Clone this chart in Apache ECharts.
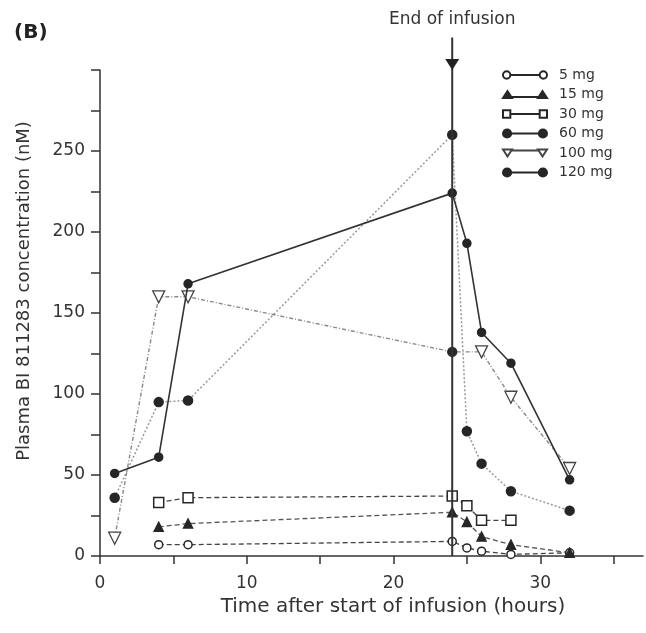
<!DOCTYPE html>
<html>
<head>
<meta charset="utf-8">
<script src="https://cdn.jsdelivr.net/npm/echarts@6/dist/echarts.min.js"></script>
<style>
html,body{margin:0;padding:0;background:#fff;}
#chart{width:646px;height:633px;}
</style>
</head>
<body>
<div id="chart"></div>
<script>
// ---- data (hours, nM) ----
const seriesNames = ['5 mg', '15 mg', '30 mg', '60 mg', '100 mg', '120 mg'];
const times5 = [4, 6, 24, 25, 26, 28, 32];
const vals5 = [7, 7, 9, 5, 3, 1, 2];
const times15 = [4, 6, 24, 25, 26, 28, 32];
const vals15 = [18, 20, 27, 21, 12, 7, 2];
const times30 = [4, 6, 24, 25, 26, 28];
const vals30 = [33, 36, 37, 31, 22, 22];
const times60 = [1, 4, 6, 24, 25, 26, 28, 32];
const vals60 = [36, 95, 96, 260, 77, 57, 40, 28];
const times100 = [1, 4, 6, 24, 26, 28, 32];
const vals100 = [11, 160, 160, 126, 126, 98, 54];
const times120 = [1, 4, 6, 24, 25, 26, 28, 32];
const vals120 = [51, 61, 168, 224, 193, 138, 119, 47];
const infusionEnd = 24;
const infusionLabel = 'End of infusion';
const xTicks = [0, 5, 10, 15, 20, 25, 30, 35];
const xLabels = [0, 10, 20, 30];
const yLabels = [0, 50, 100, 150, 200, 250];

function pairs(t, v) { return t.map((x, i) => [x, v[i]]); }

const dark = '#262626';
const FONT = 'DejaVu Sans, Liberation Sans, sans-serif';
const chart = echarts.init(document.getElementById('chart'));

// legend icons: marker - line - marker
const icons = {
  '5 mg': 'path://M1,4.5 a3.5,3.5 0 1,0 7,0 a3.5,3.5 0 1,0 -7,0 Z M36,4.5 a3.5,3.5 0 1,0 7,0 a3.5,3.5 0 1,0 -7,0 Z M8,4.5 L36,4.5',
  '15 mg': 'path://M0,8 L4.5,1 L9,8 Z M35,8 L39.5,1 L44,8 Z M9,7 L35,7',
  '30 mg': 'path://M1,1 L8,1 L8,8 L1,8 Z M36,1 L43,1 L43,8 L36,8 Z M8,4.5 L36,4.5',
  '60 mg': 'path://M0.5,4.5 a4,4 0 1,0 8,0 a4,4 0 1,0 -8,0 Z M35.5,4.5 a4,4 0 1,0 8,0 a4,4 0 1,0 -8,0 Z M8,4.5 L36,4.5',
  '100 mg': 'path://M0,1 L9,1 L4.5,8 Z M35,1 L44,1 L39.5,8 Z M9,2 L35,2',
  '120 mg': 'path://M0.5,4.5 a4,4 0 1,0 8,0 a4,4 0 1,0 -8,0 Z M35.5,4.5 a4,4 0 1,0 8,0 a4,4 0 1,0 -8,0 Z M8,4.5 L36,4.5'
};

const d100 = pairs(times100, vals100).map((p) =>
  p[0] === infusionEnd ? { value: p, symbol: 'circle', symbolRotate: 0, symbolSize: 9, itemStyle: { color: dark, borderColor: dark } } : p);

chart.setOption({
  animation: false,
  backgroundColor: '#fff',
  textStyle: { fontFamily: FONT },
  graphic: [
    { type: 'text', left: 14, top: 23, style: { text: '(B)', font: 'bold 20px ' + FONT, fill: '#222' } }
  ],
  legend: {
    orient: 'vertical',
    left: 497,
    top: 63,
    itemWidth: 44,
    itemHeight: 9,
    itemGap: 5.5,
    data: seriesNames.map((n) => ({ name: n, icon: icons[n], symbolRotate: 0 })),
    textStyle: { fontSize: 14, color: '#333', fontFamily: FONT, padding: [0, 0, 0, 7] }
  },
  grid: { left: 100, right: 3, top: 70, bottom: 77, containLabel: false },
  xAxis: {
    type: 'value', min: 0, max: 37, interval: 5,
    name: 'Time after start of infusion (hours)',
    nameLocation: 'middle', nameGap: 36,
    nameTextStyle: { fontSize: 20, color: '#333', fontFamily: FONT, padding: [0, 0, 0, 43] },
    axisLine: { lineStyle: { color: '#333', width: 1.5 } },
    axisTick: { length: 8, lineStyle: { color: '#333', width: 1.5 }, customValues: xTicks },
    axisLabel: { fontSize: 17, color: '#333', margin: 19, fontFamily: FONT, customValues: xLabels },
    splitLine: { show: false }
  },
  yAxis: {
    type: 'value', min: 0, max: 300, interval: 25,
    name: 'Plasma BI 811283 concentration (nM)',
    nameLocation: 'middle', nameGap: 67,
    nameTextStyle: { fontSize: 18, color: '#333', fontFamily: FONT, padding: [0, 0, 0, 44] },
    axisLine: { show: true, lineStyle: { color: '#333', width: 1.5 } },
    axisTick: { show: true, length: 9, lineStyle: { color: '#333', width: 1.5 } },
    axisLabel: {
      fontSize: 17, color: '#333', margin: 15, fontFamily: FONT,
      formatter: (v) => (yLabels.indexOf(v) >= 0 ? String(v) : '')
    },
    splitLine: { show: false }
  },
  series: [
    {
      name: '5 mg', type: 'line', data: pairs(times5, vals5),
      symbol: 'circle', symbolSize: 8,
      itemStyle: { color: '#fff', borderColor: dark, borderWidth: 1.5 },
      lineStyle: { color: '#444', width: 1.3, type: [5, 3] }, z: 3
    },
    {
      name: '15 mg', type: 'line', data: pairs(times15, vals15),
      symbol: 'triangle', symbolSize: 9,
      itemStyle: { color: dark, borderColor: dark, borderWidth: 1.5 },
      lineStyle: { color: '#555', width: 1.3, type: [5, 3] }, z: 3
    },
    {
      name: '30 mg', type: 'line', data: pairs(times30, vals30),
      symbol: 'rect', symbolSize: 10,
      itemStyle: { color: '#fff', borderColor: dark, borderWidth: 1.5 },
      lineStyle: { color: '#444', width: 1.3, type: [5, 3] }, z: 3
    },
    {
      name: '60 mg', type: 'line', data: pairs(times60, vals60),
      symbol: 'circle', symbolSize: 9,
      itemStyle: { color: dark, borderColor: dark, borderWidth: 1.5 },
      lineStyle: { color: '#999', width: 1.5, type: [2, 2] }, z: 3
    },
    {
      name: '100 mg', type: 'line', data: d100,
      symbol: 'triangle', symbolRotate: 180, symbolSize: 12,
      itemStyle: { color: '#fff', borderColor: '#444', borderWidth: 1.3 },
      lineStyle: { color: '#888', width: 1.4, type: [4, 2, 1, 2] }, z: 3
    },
    {
      name: '120 mg', type: 'line', data: pairs(times120, vals120),
      symbol: 'circle', symbolSize: 8,
      itemStyle: { color: dark, borderColor: dark, borderWidth: 1.5 },
      lineStyle: { color: '#333', width: 1.6, type: 'solid' }, z: 4
    },
    {
      name: infusionLabel, type: 'custom', clip: false, silent: true, z: 5,
      data: [[infusionEnd]],
      renderItem: function (params, api) {
        const x = api.value(0);
        const p0 = api.coord([x, 0]);
        const p1 = api.coord([x, 320]);
        const tip = api.coord([x, 300]);
        return {
          type: 'group',
          children: [
            { type: 'line', shape: { x1: p0[0], y1: p0[1], x2: p1[0], y2: p1[1] },
              style: { stroke: '#333', lineWidth: 2 } },
            { type: 'polygon', shape: { points: [[tip[0], tip[1]], [tip[0] - 7, tip[1] - 11], [tip[0] + 7, tip[1] - 11]] },
              style: { fill: '#222' } },
            { type: 'text', x: p1[0], y: p1[1] - 10,
              style: { text: infusionLabel, font: '17px ' + FONT, fill: '#333', align: 'center', verticalAlign: 'bottom' } }
          ]
        };
      }
    }
  ]
});
</script>
</body>
</html>
